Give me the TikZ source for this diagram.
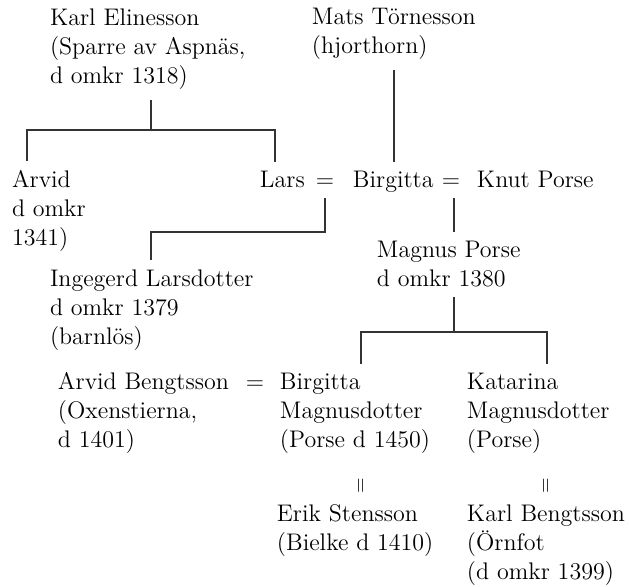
\documentclass[tikz,border=0pt]{standalone}
\usepackage{fontspec}
\newcommand{\famlines}[1]{\vtop{\let\\\cr\halign{##\hfil\cr#1\crcr}}}
\tikzstyle{node_person} = [anchor=base west, inner sep=0pt, outer xsep=0pt, outer ysep=5pt, font=\fontsize{12}{14.5}\selectfont]
\tikzstyle{node_eq} = [anchor=base, inner sep=0pt, outer xsep=0pt, outer ysep=5pt, font=\fontsize{12}{14.5}\selectfont]
\tikzstyle{node_marr} = [rotate=90, inner sep=0pt, font=\fontsize{10}{10}\selectfont]
\tikzstyle{edge_normal} = [line width=0.7pt, black!80]

\begin{document}
\begin{tikzpicture}[x=0.5pt,y=-0.5pt]
			\useasboundingbox (0,0) rectangle (629,587);
			\node (KE) at (50,26) [node_person] {\famlines{Karl Elinesson\\(Sparre av Aspnäs,\\d omkr 1318)}};
			\node (MT) at (312,25) [node_person] {\famlines{Mats Törnesson\\(hjorthorn)}};
			\node (AR) at (12,188) [node_person] {\famlines{Arvid\\d omkr\\1341)}};
			\node (LA) at (260,188) [node_person] {Lars};
			\node (eq1) at (325,188) [node_eq] {=};
			\node (BI) at (353,188) [node_person] {Birgitta};
			\node (eq2) at (451,188) [node_eq] {=};
			\node (KP) at (477,188) [node_person] {Knut Porse};
			\node (IL) at (50,287) [node_person] {\famlines{Ingegerd Larsdotter\\d omkr 1379\\(barnlös)}};
			\node (MP) at (377,258) [node_person] {\famlines{Magnus Porse\\d omkr 1380}};
			\node (AB) at (58,390) [node_person] {\famlines{Arvid Bengtsson\\(Oxenstierna,\\d 1401)}};
			\node (eq3) at (255,390) [node_eq] {=};
			\node (BM) at (280,390) [node_person] {\famlines{Birgitta\\Magnusdotter\\(Porse d 1450)}};
			\node (KM) at (467,390) [node_person] {\famlines{Katarina\\Magnusdotter\\(Porse)}};
			\node (m1) at (362,486) [node_marr] {=};
			\node (m2) at (547,486) [node_marr] {=};
			\node (ES) at (277,522) [node_person] {\famlines{Erik Stensson\\(Bielke d 1410)}};
			\node (KB) at (467,522) [node_person] {\famlines{Karl Bengtsson\\(Örnfot\\(d omkr 1399)}};
			\coordinate (b1l) at (27,130);
			\coordinate (b1m) at (151,130);
			\coordinate (b1r) at (275,130);
			\coordinate (b2) at (151,232);
			\coordinate (b3l) at (361,332);
			\coordinate (b3m) at (454,332);
			\coordinate (b3r) at (547,332);
			\draw[edge_normal] (b1m |- KE.south) -- (b1m);
			\draw[edge_normal] (b1l |- AR.north) -- (b1l) -- (b1r) -- (b1r |- LA.north);
			\draw[edge_normal] (MT.south) -- (MT.south |- BI.north);
			\draw[edge_normal] (eq1.south) |- (b2) -- (b2 |- IL.north);
			\draw[edge_normal] (b3m |- eq2.south) -- (b3m |- MP.north);
			\draw[edge_normal] (b3m |- MP.south) -- (b3m);
			\draw[edge_normal] (b3l |- BM.north) -- (b3l) -- (b3r) -- (b3r |- KM.north);
		\end{tikzpicture}
\end{document}
